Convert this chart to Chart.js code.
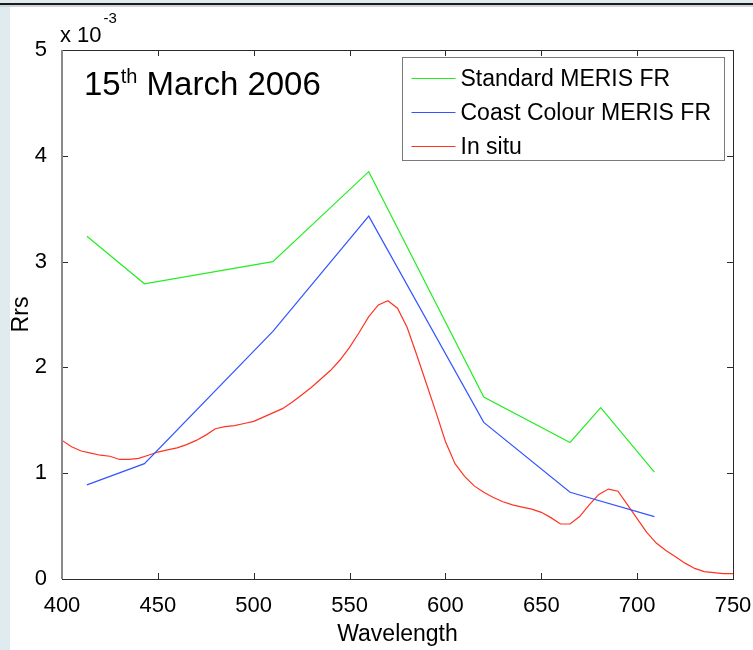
<!DOCTYPE html>
<html>
<head>
<meta charset="utf-8">
<script src="https://cdn.jsdelivr.net/npm/chart.js@4.4.1/dist/chart.umd.min.js"></script>
<style>
  html, body { margin: 0; padding: 0; background: #fff; }
  #wrap { position: relative; width: 753px; height: 650px; overflow: hidden; }
  .strip { position: absolute; }
  canvas { position: absolute; left: 0; top: 0; }
</style>
</head>
<body>
<div id="wrap">
  <div class="strip" style="left:0;top:0;width:10px;height:650px;background:#e0ebf0"></div>
  <div class="strip" style="left:0;top:0;width:753px;height:3px;background:#e0ebf0"></div>
  <div class="strip" style="left:0;top:3px;width:753px;height:2px;background:#1c1c1c"></div>
  <div class="strip" style="left:0;top:5px;width:753px;height:2px;background:#cfd6d9"></div>
  <canvas id="chart" width="753" height="650"></canvas>
</div>
<script>
// wavelengths in nm, Rrs in units of 1e-3
let merisBands = [413, 443, 510, 560, 620, 665, 681, 709];
let standardFR = [3.24, 2.79, 3.00, 3.85, 1.72, 1.29, 1.62, 1.01];

let coastBands = [413, 443, 510, 560, 620, 665, 709];
let coastFR = [0.89, 1.09, 2.34, 3.43, 1.48, 0.82, 0.59];

let insituWl = [400, 405, 410, 415, 420, 425, 430, 435, 440, 445, 450, 455, 460, 465, 470, 475,
  480, 485, 490, 495, 500, 505, 510, 515, 520, 525, 530, 535, 540, 545, 550, 555, 560, 565,
  570, 575, 580, 585, 590, 595, 600, 605, 610, 615, 620, 625, 630, 635, 640, 645, 650, 655,
  660, 665, 670, 675, 680, 685, 690, 695, 700, 705, 710, 715, 720, 725, 730, 735, 740, 745, 750];
let insitu = [1.31, 1.25, 1.21, 1.19, 1.17, 1.16, 1.13, 1.13, 1.14, 1.17, 1.20, 1.22, 1.24, 1.27,
  1.31, 1.36, 1.42, 1.44, 1.45, 1.47, 1.49, 1.53, 1.57, 1.61, 1.67, 1.74, 1.81, 1.89, 1.97,
  2.07, 2.19, 2.33, 2.48, 2.59, 2.63, 2.56, 2.38, 2.12, 1.85, 1.58, 1.30, 1.09, 0.97, 0.88,
  0.82, 0.77, 0.73, 0.70, 0.68, 0.66, 0.63, 0.58, 0.52, 0.52, 0.59, 0.70, 0.80, 0.85, 0.83,
  0.70, 0.57, 0.44, 0.34, 0.27, 0.21, 0.15, 0.10, 0.07, 0.06, 0.05, 0.05];

let seriesNames = ['Standard MERIS FR', 'Coast Colour MERIS FR', 'In situ'];
let seriesColors = ['#22ee22', '#3355ff', '#ff3322'];

let xTicks = [400, 450, 500, 550, 600, 650, 700, 750];
let yTicks = [0, 1, 2, 3, 4, 5];

const FONT = '"Liberation Sans", Arial, Helvetica, sans-serif';

function toPoints(xs, ys) {
  return xs.map((x, i) => ({ x: x, y: ys[i] }));
}

// frame, inward ticks, legend box, title text and the exponent note
const matlabBits = {
  id: 'matlabBits',
  afterDatasetsDraw(chart) {
    let ctx = chart.ctx;
    let a = chart.chartArea;
    let xs = chart.scales.x;
    let ys = chart.scales.y;
    ctx.save();

    ctx.strokeStyle = '#2b2b2b';
    ctx.lineWidth = 1;
    ctx.beginPath();
    xTicks.forEach(t => {
      let px = Math.round(xs.getPixelForValue(t)) + 0.5;
      ctx.moveTo(px, a.bottom); ctx.lineTo(px, a.bottom - 6);
      ctx.moveTo(px, a.top); ctx.lineTo(px, a.top + 6);
    });
    yTicks.forEach(t => {
      let py = Math.round(ys.getPixelForValue(t)) + 0.5;
      ctx.moveTo(a.left, py); ctx.lineTo(a.left + 6, py);
      ctx.moveTo(a.right, py); ctx.lineTo(a.right - 6, py);
    });
    ctx.stroke();

    ctx.strokeRect(Math.round(a.left) + 0.5, Math.round(a.top) + 0.5,
      Math.round(a.right - a.left), Math.round(a.bottom - a.top));
    // left axis looks a bit heavier / greyer in the original
    ctx.strokeStyle = '#8a8a8a';
    ctx.lineWidth = 2;
    ctx.beginPath();
    ctx.moveTo(a.left, a.top); ctx.lineTo(a.left, a.bottom);
    ctx.stroke();

    // legend
    let bw = 322, bh = 103;
    let bx = Math.round(a.right - 9 - bw) + 0.5;
    let by = Math.round(a.top + 7) + 0.5;
    ctx.fillStyle = '#fff';
    ctx.fillRect(bx, by, bw, bh);
    ctx.strokeStyle = '#7a7a7a';
    ctx.lineWidth = 1;
    ctx.strokeRect(bx, by, bw, bh);
    ctx.font = '23px ' + FONT;
    ctx.textBaseline = 'middle';
    ctx.textAlign = 'left';
    seriesNames.forEach((n, i) => {
      let ry = Math.round(by + 20 + i * 34) + 0.5;
      ctx.strokeStyle = seriesColors[i];
      ctx.beginPath();
      ctx.moveTo(bx + 9, ry); ctx.lineTo(bx + 53, ry);
      ctx.stroke();
      ctx.fillStyle = '#000';
      ctx.fillText(n, bx + 58, ry + 1);
    });

    // title inside plot
    ctx.fillStyle = '#000';
    ctx.textBaseline = 'alphabetic';
    let tx = a.left + 22, ty = a.top + 45;
    ctx.font = '33px ' + FONT;
    ctx.fillText('15', tx, ty);
    tx += ctx.measureText('15').width;
    ctx.font = '20px ' + FONT;
    ctx.fillText('th', tx, ty - 12);
    tx += ctx.measureText('th').width;
    ctx.font = '33px ' + FONT;
    ctx.fillText(' March 2006', tx, ty);

    // exponent note above the y axis
    ctx.font = '22px ' + FONT;
    ctx.fillText('x 10', a.left - 2, a.top - 8);
    let ew = ctx.measureText('x 10').width;
    ctx.font = '15px ' + FONT;
    ctx.fillText('-3', a.left - 2 + ew + 2, a.top - 27);

    ctx.restore();
  }
};

new Chart(document.getElementById('chart'), {
  type: 'line',
  data: {
    datasets: [
      { label: seriesNames[0], data: toPoints(merisBands, standardFR), borderColor: seriesColors[0] },
      { label: seriesNames[1], data: toPoints(coastBands, coastFR), borderColor: seriesColors[1] },
      { label: seriesNames[2], data: toPoints(insituWl, insitu), borderColor: seriesColors[2] }
    ]
  },
  options: {
    responsive: false,
    animation: false,
    events: [],
    elements: {
      line: { borderWidth: 1.2, tension: 0, fill: false },
      point: { radius: 0 }
    },
    layout: { padding: { top: 50, right: 20, left: 0, bottom: 0 } },
    plugins: { legend: { display: false }, tooltip: { enabled: false } },
    scales: {
      x: {
        type: 'linear',
        min: 400, max: 750,
        afterBuildTicks: s => { s.ticks = xTicks.map(v => ({ value: v })); },
        afterFit: s => { s.height = 71; s.paddingLeft = 0; s.paddingRight = 0; },
        grid: { display: false },
        border: { display: false },
        ticks: { color: '#000', font: { family: FONT, size: 22 }, padding: 6, maxRotation: 0 },
        title: { display: true, text: 'Wavelength', color: '#000',
          font: { family: FONT, size: 23 }, padding: { top: 0, bottom: 2 } }
      },
      y: {
        type: 'linear',
        min: 0, max: 5,
        afterBuildTicks: s => { s.ticks = yTicks.map(v => ({ value: v })); },
        afterFit: s => { s.width = 62; s.paddingTop = 0; s.paddingBottom = 0; },
        grid: { display: false },
        border: { display: false },
        ticks: { color: '#000', font: { family: FONT, size: 22 }, padding: 7 },
        title: { display: true, text: 'Rrs', color: '#000',
          font: { family: FONT, size: 23 }, padding: { top: 8, bottom: 0 } }
      }
    }
  },
  plugins: [matlabBits]
});
</script>
</body>
</html>
